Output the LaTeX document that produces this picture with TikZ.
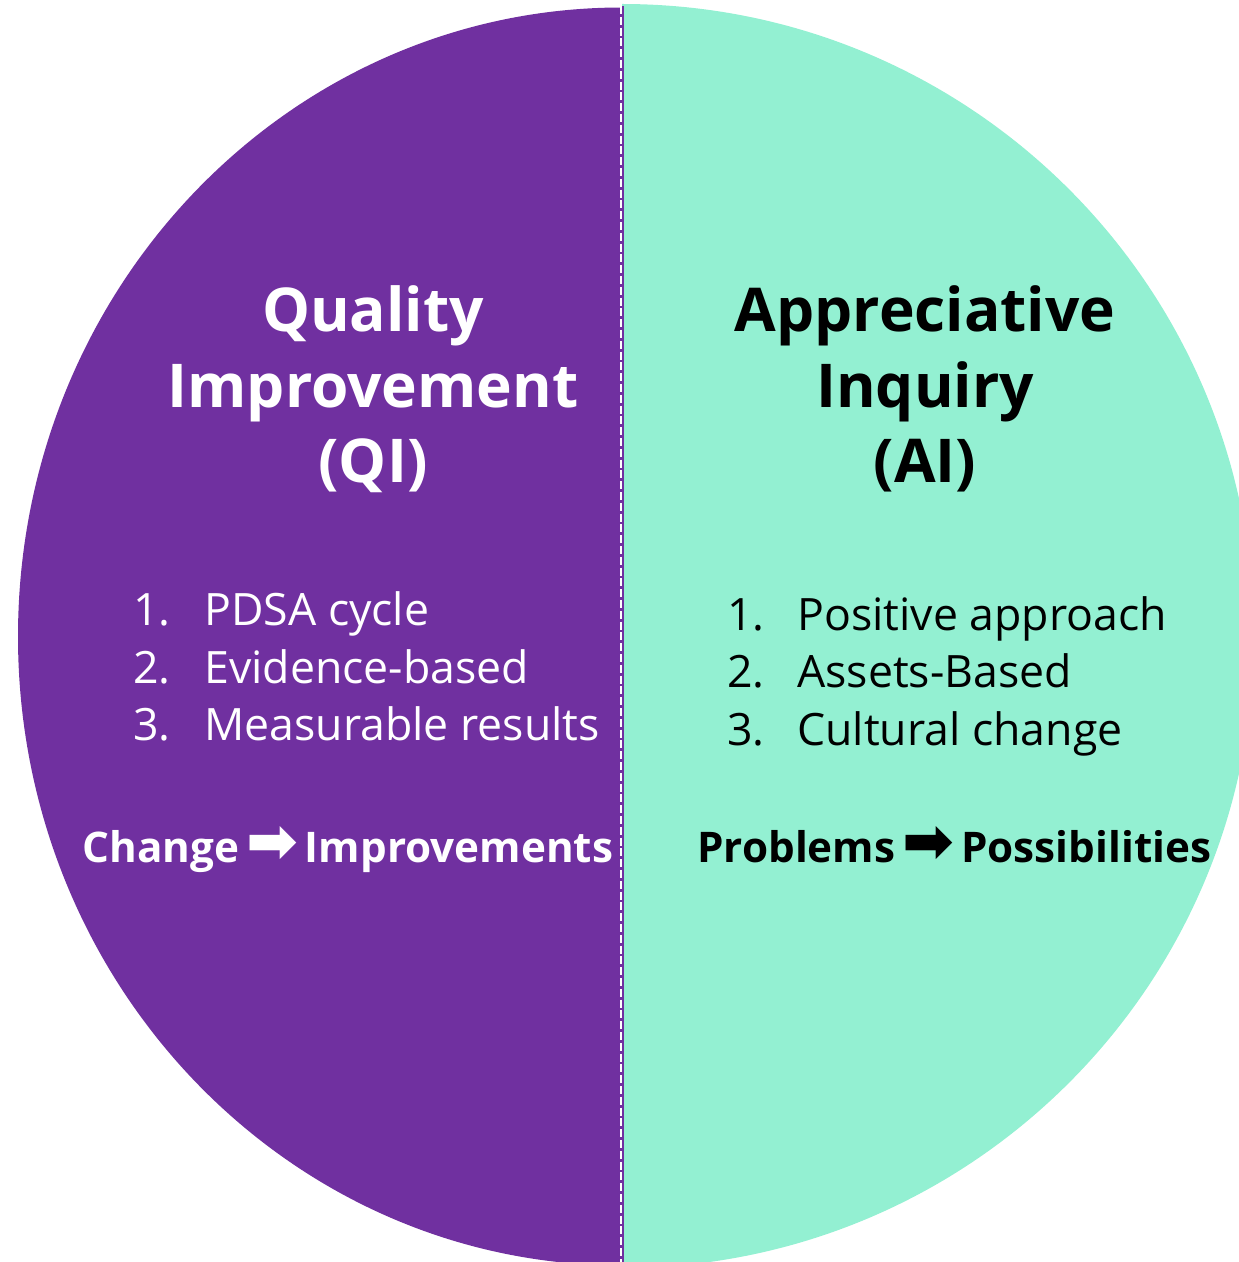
\documentclass[tikz,border=0pt]{standalone}
\usepackage{fontspec}
\setmainfont{Open Sans}
\newfontfamily\arrowfont{DejaVu Sans}
\definecolor{qipurple}{HTML}{7030A0}
\definecolor{aimint}{HTML}{93F0D2}
\newcommand{\fatarrow}{\hspace{3.5pt}{\arrowfont\fontsize{31}{31}\selectfont ➡}\hspace{3.5pt}}
\begin{document}
\begin{tikzpicture}[x=0.5pt,y=-0.5pt,
  heading/.style={font=\fontsize{30.2}{34}\selectfont\bfseries, inner sep=0pt, anchor=base},
  listitem/.style={font=\fontsize{22.3}{26}\selectfont, inner sep=0pt, anchor=base west},
  motto/.style={font=\fontsize{21.1}{24}\selectfont\bfseries, inner sep=0pt, anchor=base west}]
\useasboundingbox (0,0) rectangle (1238,1262);
% halves
\fill[qipurple] (622,7.5) arc[start angle=90, end angle=270, x radius=302pt, y radius=314.5pt] -- cycle;
\fill[aimint] (622,4) arc[start angle=90, end angle=-90, radius=316pt] -- cycle;
% divider
\coordinate (dtop) at (622,6);
\coordinate (dbot) at (622,1262);
\draw[qipurple, line width=1.5pt] (dtop) -- (dbot);
\draw[white, line width=1pt, dash pattern=on 4pt off 1.4pt] ([xshift=-0.3pt]dtop) -- ([xshift=-0.3pt]dbot);
% left heading
\node[heading, text=white] (q1) at (373,332) {Quality};
\node[heading, text=white] (q2) at (373,408) {Improvement};
\node[heading, text=white] (q3) at (373,482) {(QI)};
% right heading
\node[heading, text=black] (a1) at (925,332) {Appreciative};
\node[heading, text=black] (a2) at (925,408) {Inquiry};
\node[heading, text=black] (a3) at (925,482) {(AI)};
% left list
\node[listitem, text=white] (ln1) at (133,625) {1.};
\node[listitem, text=white] (lt1) at (204,625) {PDSA cycle};
\node[listitem, text=white] (ln2) at (133,683) {2.};
\node[listitem, text=white] (lt2) at (204,683) {Evidence-based};
\node[listitem, text=white] (ln3) at (133,740) {3.};
\node[listitem, text=white] (lt3) at (204,740) {Measurable results};
% right list
\node[listitem, text=black] (rn1) at (727,630) {1.};
\node[listitem, text=black] (rt1) at (797,630) {Positive approach};
\node[listitem, text=black] (rn2) at (727,687) {2.};
\node[listitem, text=black] (rt2) at (797,687) {Assets-Based};
\node[listitem, text=black] (rn3) at (727,745) {3.};
\node[listitem, text=black] (rt3) at (797,745) {Cultural change};
% mottos
\node[motto, text=white] (lm) at (82,862) {Change\fatarrow Improvements};
\node[motto, text=black] (rm) at (697,862) {Problems\fatarrow Possibilities};
\end{tikzpicture}
\end{document}
